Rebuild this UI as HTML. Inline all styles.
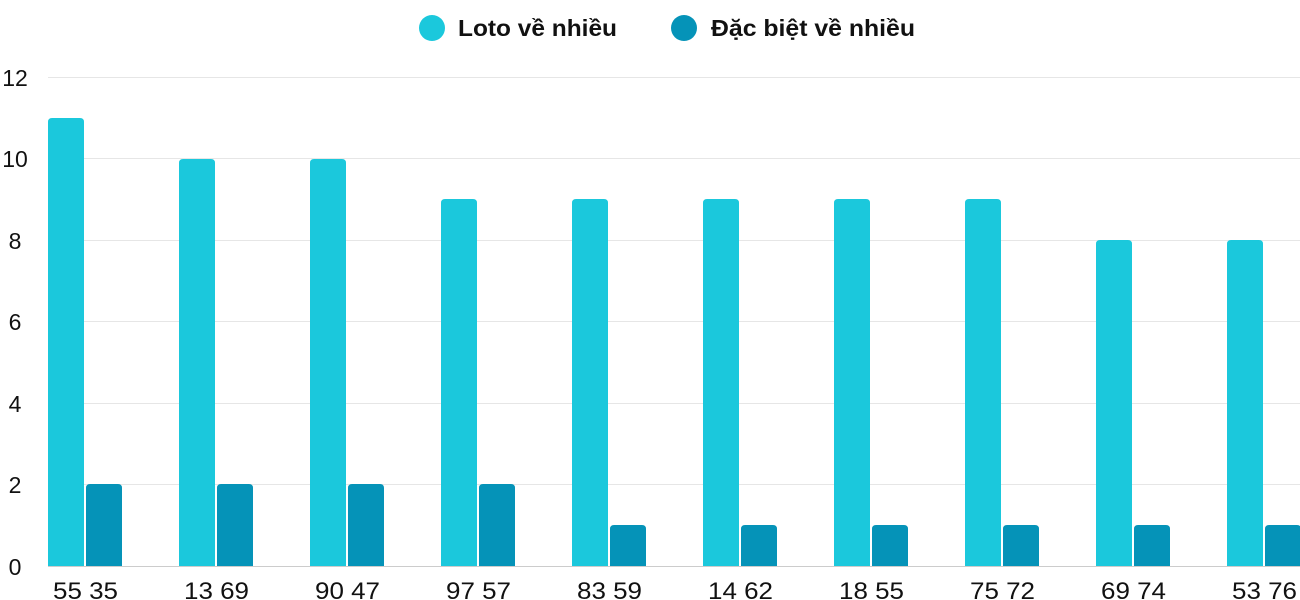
<!DOCTYPE html>
<html><head><meta charset="utf-8"><style>body{margin:0;background:#fff}svg{display:block}text{font-family:"Liberation Sans",sans-serif;fill:#111}</style></head>
<body>
<svg width="1300" height="600" xmlns="http://www.w3.org/2000/svg">
<g stroke="#e6e6e6" stroke-width="1">
<line x1="48" x2="1300" y1="77.5" y2="77.5"/><line x1="48" x2="1300" y1="158.5" y2="158.5"/><line x1="48" x2="1300" y1="240.5" y2="240.5"/><line x1="48" x2="1300" y1="321.5" y2="321.5"/><line x1="48" x2="1300" y1="403.5" y2="403.5"/><line x1="48" x2="1300" y1="484.5" y2="484.5"/>
</g>
<line x1="48" x2="1300" y1="566.5" y2="566.5" stroke="#ccc"/>
<g font-size="23" text-anchor="middle">
<text x="15" y="86">12</text><text x="15" y="167">10</text><text x="15" y="249">8</text><text x="15" y="330">6</text><text x="15" y="412">4</text><text x="15" y="493">2</text><text x="15" y="575">0</text>
</g>
<g fill="#1bc8dc">
<path d="M48 566V122q0-4 4-4h28q4 0 4 4V566z"/>
<path d="M179 566V163q0-4 4-4h28q4 0 4 4V566z"/>
<path d="M310 566V163q0-4 4-4h28q4 0 4 4V566z"/>
<path d="M441 566V203q0-4 4-4h28q4 0 4 4V566z"/>
<path d="M572 566V203q0-4 4-4h28q4 0 4 4V566z"/>
<path d="M703 566V203q0-4 4-4h28q4 0 4 4V566z"/>
<path d="M834 566V203q0-4 4-4h28q4 0 4 4V566z"/>
<path d="M965 566V203q0-4 4-4h28q4 0 4 4V566z"/>
<path d="M1096 566V244q0-4 4-4h28q4 0 4 4V566z"/>
<path d="M1227 566V244q0-4 4-4h28q4 0 4 4V566z"/>
</g>
<g fill="#0593b8">
<path d="M86 566V488q0-4 4-4h28q4 0 4 4V566z"/>
<path d="M217 566V488q0-4 4-4h28q4 0 4 4V566z"/>
<path d="M348 566V488q0-4 4-4h28q4 0 4 4V566z"/>
<path d="M479 566V488q0-4 4-4h28q4 0 4 4V566z"/>
<path d="M610 566V529q0-4 4-4h28q4 0 4 4V566z"/>
<path d="M741 566V529q0-4 4-4h28q4 0 4 4V566z"/>
<path d="M872 566V529q0-4 4-4h28q4 0 4 4V566z"/>
<path d="M1003 566V529q0-4 4-4h28q4 0 4 4V566z"/>
<path d="M1134 566V529q0-4 4-4h28q4 0 4 4V566z"/>
<path d="M1265 566V529q0-4 4-4h28q4 0 4 4V566z"/>
</g>
<g font-size="24" font-weight="500">
<text x="53" y="599" textLength="65" lengthAdjust="spacingAndGlyphs">55 35</text>
<text x="184" y="599" textLength="65" lengthAdjust="spacingAndGlyphs">13 69</text>
<text x="315" y="599" textLength="65" lengthAdjust="spacingAndGlyphs">90 47</text>
<text x="446" y="599" textLength="65" lengthAdjust="spacingAndGlyphs">97 57</text>
<text x="577" y="599" textLength="65" lengthAdjust="spacingAndGlyphs">83 59</text>
<text x="708" y="599" textLength="65" lengthAdjust="spacingAndGlyphs">14 62</text>
<text x="839" y="599" textLength="65" lengthAdjust="spacingAndGlyphs">18 55</text>
<text x="970" y="599" textLength="65" lengthAdjust="spacingAndGlyphs">75 72</text>
<text x="1101" y="599" textLength="65" lengthAdjust="spacingAndGlyphs">69 74</text>
<text x="1232" y="599" textLength="65" lengthAdjust="spacingAndGlyphs">53 76</text>
</g>
<circle cx="432" cy="28" r="13" fill="#1bc8dc"/><text x="458" y="36" font-size="23" font-weight="bold" textLength="159" lengthAdjust="spacingAndGlyphs">Loto về nhiều</text>
<circle cx="684" cy="28" r="13" fill="#0593b8"/><text x="711" y="36" font-size="23" font-weight="bold" textLength="204" lengthAdjust="spacingAndGlyphs">Đặc biệt về nhiều</text>
</svg>
</body></html>
